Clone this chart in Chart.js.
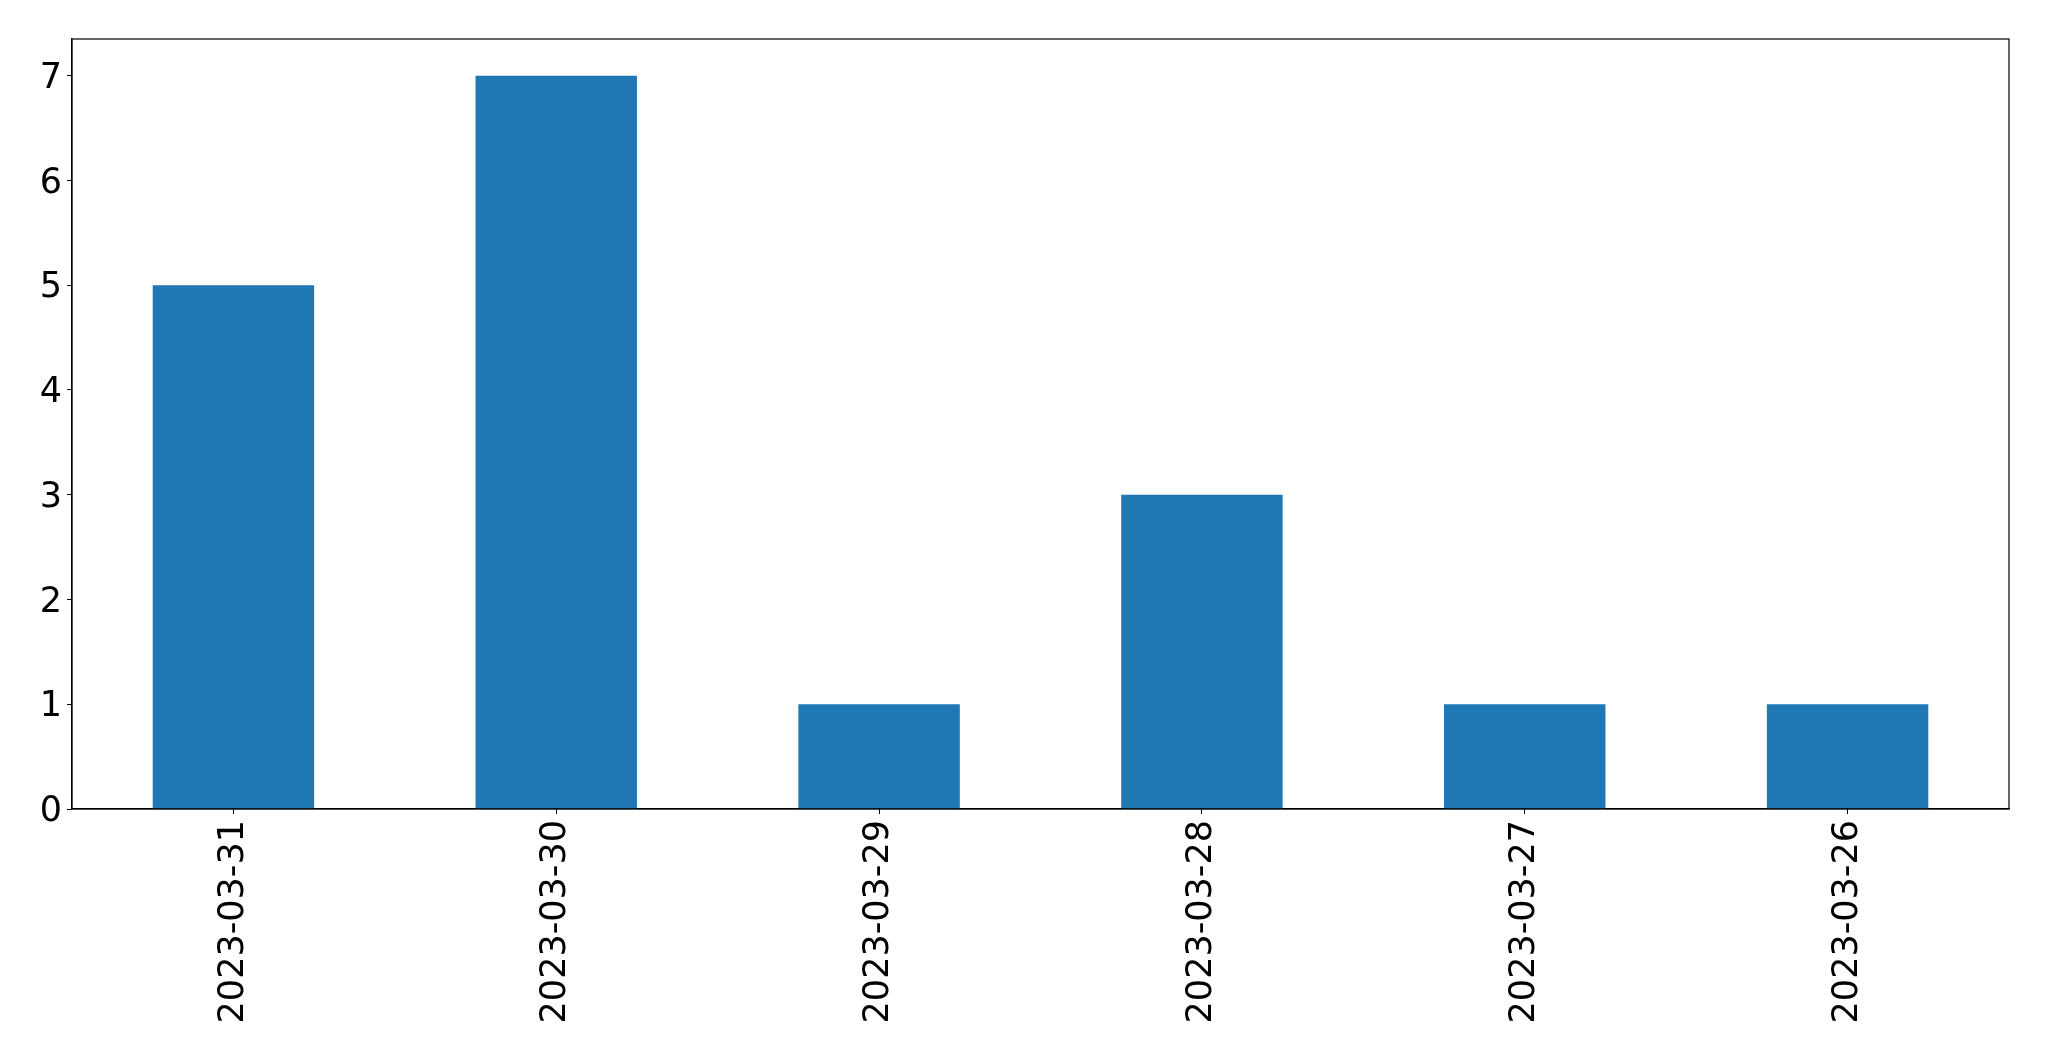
<!DOCTYPE html>
<html>
<head>
<meta charset="utf-8">
<script src="https://cdn.jsdelivr.net/npm/chart.js@4"></script>
<style>
  html, body { margin: 0; padding: 0; background: #fff; }
  #chart { display: block; }
</style>
</head>
<body>
<canvas id="chart" width="2049" height="1061"></canvas>
<script>
// data
let dates = ['2023-03-31', '2023-03-30', '2023-03-29', '2023-03-28', '2023-03-27', '2023-03-26'];
let counts = [5, 7, 1, 3, 1, 1];
let yTicks = [0, 1, 2, 3, 4, 5, 6, 7];

// box round the plot area, like matplotlib
let frame = {
  id: 'frame',
  afterDraw(chart) {
    let a = chart.chartArea;
    let ctx = chart.ctx;
    ctx.save();
    ctx.strokeStyle = '#000';
    ctx.lineWidth = 1.2;
    ctx.strokeRect(a.left, a.top, a.right - a.left, a.bottom - a.top);
    ctx.restore();
  }
};

let ctx = document.getElementById('chart');
let myChart = new Chart(ctx, {
  type: 'bar',
  data: {
    labels: dates,
    datasets: [{
      data: counts,
      backgroundColor: '#1f77b4',
      borderWidth: 0,
      categoryPercentage: 1,
      barPercentage: 0.5
    }]
  },
  options: {
    responsive: false,
    animation: false,
    layout: { padding: { top: 39, right: 40, left: 0, bottom: 0 } },
    plugins: { legend: { display: false }, tooltip: { enabled: false } },
    scales: {
      x: {
        offset: true,
        grid: { offset: false, drawOnChartArea: false, drawTicks: true, tickLength: 5, color: '#000' },
        border: { display: true, color: '#000', width: 1.2 },
        ticks: {
          minRotation: 90,
          maxRotation: 90,
          padding: 6,
          color: '#000',
          font: { family: 'DejaVu Sans', size: 35 }
        },
        afterFit(scale) { scale.height = 252; }
      },
      y: {
        min: 0,
        max: 7.35,
        grid: { drawOnChartArea: false, drawTicks: true, tickLength: 5, color: '#000' },
        border: { display: true, color: '#000', width: 1.2 },
        ticks: {
          stepSize: 1,
          padding: 5,
          labelOffset: 3,
          color: '#000',
          font: { family: 'DejaVu Sans', size: 35 }
        },
        afterBuildTicks(scale) {
          scale.ticks = yTicks.map(v => ({ value: v }));
        },
        afterFit(scale) { scale.width = 72; }
      }
    }
  },
  plugins: [frame]
});
</script>
</body>
</html>
